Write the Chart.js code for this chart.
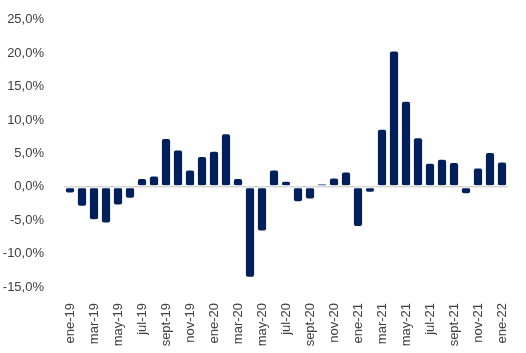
<!DOCTYPE html>
<html>
<head>
<meta charset="utf-8">
<script src="https://cdn.jsdelivr.net/npm/chart.js@4"></script>
<style>
  html, body { margin: 0; padding: 0; background: #fff; }
  #wrap { width: 526px; height: 353px; }
</style>
</head>
<body>
<div id="wrap"><canvas id="c"></canvas></div>
<script>
const months = ['ene', 'feb', 'mar', 'abr', 'may', 'jun', 'jul', 'ago', 'sept', 'oct', 'nov', 'dic']
const labels = []
for (let y = 19; y <= 22; y++) {
  for (const m of months) {
    if (y === 22 && m !== 'ene') break
    labels.push(m + '-' + y)
  }
}

const values = [
  -1.0, -3.0, -5.0, -5.5, -2.8, -1.8, 1.3, 1.7, 7.3, 5.6, 2.6, 4.6,
  5.4, 8.0, 1.3, -13.6, -6.7, 2.6, 0.9, -2.3, -1.9, 0.5, 1.4, 2.3,
  -6.0, -0.9, 8.7, 20.4, 12.9, 7.4, 3.6, 4.2, 3.7, -1.1, 2.9, 5.2,
  3.8
]

Chart.defaults.font.family = 'Liberation Sans, Arial, sans-serif'
Chart.defaults.font.size = 13
Chart.defaults.color = '#404040'

// gray zero line drawn over the bars, with a white halo
const zeroLine = {
  id: 'zeroLine',
  afterDatasetsDraw(chart) {
    const { ctx, chartArea, scales } = chart
    const y0 = scales.y.getPixelForValue(0)
    ctx.save()
    ctx.strokeStyle = '#ffffff'
    ctx.lineWidth = 3
    ctx.beginPath()
    ctx.moveTo(chartArea.left, y0)
    ctx.lineTo(chartArea.right, y0)
    ctx.stroke()
    ctx.strokeStyle = '#d9d9d9'
    ctx.lineWidth = 1.5
    ctx.beginPath()
    ctx.moveTo(chartArea.left, y0)
    ctx.lineTo(chartArea.right, y0)
    ctx.stroke()
    ctx.restore()
  }
}

new Chart(document.getElementById('c'), {
  type: 'bar',
  data: {
    labels: labels,
    datasets: [{
      data: values,
      backgroundColor: '#001f5b',
      borderColor: '#ffffff',
      borderWidth: 1,
      borderSkipped: false,
      borderRadius: 3,
      barPercentage: 0.85,
      categoryPercentage: 1
    }]
  },
  options: {
    responsive: true,
    maintainAspectRatio: false,
    animation: false,
    layout: { padding: { top: 11, right: 18, left: 0, bottom: 0 } },
    plugins: {
      legend: { display: false },
      tooltip: { enabled: false }
    },
    scales: {
      x: {
        grid: { display: false },
        border: { display: false },
        afterFit: s => { s.height = 66 },
        ticks: {
          autoSkip: false,
          maxRotation: 90,
          minRotation: 90,
          padding: 8,
          callback: function (v, i) { return i % 2 === 0 ? this.getLabelForValue(v) : '' }
        }
      },
      y: {
        min: -15,
        max: 25,
        grid: { display: false },
        border: { display: false },
        afterFit: s => { s.width = 64 },
        ticks: {
          stepSize: 5,
          padding: 12,
          callback: v => v.toFixed(1).replace('.', ',') + '%'
        }
      }
    }
  },
  plugins: [zeroLine]
})
</script>
</body>
</html>
